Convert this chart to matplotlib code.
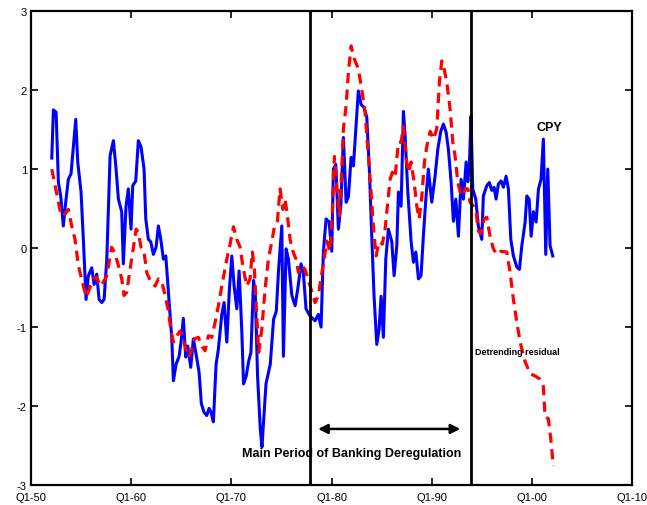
import matplotlib
matplotlib.use("Agg")
import matplotlib.pyplot as plt

plt.rcParams['font.family'] = ['Liberation Sans', 'DejaVu Sans']
plt.rcParams['axes.unicode_minus'] = False

# CPY (blue, solid)
cpy_year = [1952.07, 1952.23, 1952.50, 1952.73, 1952.96, 1953.22, 1953.46, 1953.72, 1953.99, 1954.46,
            1954.66, 1954.99, 1955.22, 1955.49, 1955.72, 1956.06, 1956.29, 1956.56, 1956.79, 1957.06,
            1957.29, 1957.56, 1957.89, 1958.22, 1958.46, 1958.72, 1959.05, 1959.21, 1959.48, 1959.71,
            1959.98, 1960.15, 1960.45, 1960.71, 1960.98, 1961.28, 1961.45, 1961.71, 1961.95, 1962.21,
            1962.48, 1962.71, 1962.95, 1963.21, 1963.45, 1964.05, 1964.21, 1964.48, 1964.78, 1964.97,
            1965.20, 1965.44, 1965.64, 1965.94, 1966.20, 1966.47, 1966.77, 1967.00, 1967.27, 1967.54,
            1967.77, 1967.97, 1968.20, 1968.47, 1968.70, 1969.04, 1969.27, 1969.54, 1969.80, 1970.04,
            1970.27, 1970.54, 1970.77, 1971.04, 1971.21, 1971.48, 1971.71, 1971.95, 1972.21, 1972.38,
            1972.61, 1972.88, 1973.05, 1973.45, 1973.88, 1974.21, 1974.48, 1974.71, 1975.03, 1975.19,
            1975.46, 1975.69, 1976.03, 1976.36, 1976.62, 1976.95, 1977.18, 1977.45, 1977.85, 1978.35,
            1978.68, 1978.95, 1979.18, 1979.45, 1979.75, 1980.02, 1980.18, 1980.42, 1980.68, 1980.92,
            1981.18, 1981.45, 1981.68, 1981.95, 1982.18, 1982.67, 1982.94, 1983.24, 1983.51, 1983.77,
            1984.01, 1984.24, 1984.51, 1984.74, 1984.94, 1985.17, 1985.41, 1985.67, 1986.01, 1986.24,
            1986.51, 1986.67, 1986.94, 1987.17, 1987.34, 1987.61, 1987.94, 1988.17, 1988.41, 1988.67,
            1988.93, 1989.16, 1989.43, 1989.66, 1990.00, 1990.33, 1990.60, 1990.90, 1991.16, 1991.43,
            1991.66, 1991.93, 1992.16, 1992.40, 1992.66, 1992.93, 1993.16, 1993.43, 1993.60, 1993.75,
            1993.92, 1994.09, 1994.39, 1994.65, 1994.99, 1995.15, 1995.49, 1995.75, 1995.99, 1996.22,
            1996.42, 1996.65, 1996.92, 1997.15, 1997.42, 1997.65, 1997.89, 1998.15, 1998.49, 1998.75,
            1998.99, 1999.32, 1999.49, 1999.72, 1999.92, 2000.15, 2000.42, 2000.65, 2000.91, 2001.14,
            2001.38, 2001.58, 2001.81, 2002.08]
cpy_val = [1.14, 1.75, 1.72, 0.83, 0.66, 0.28, 0.58, 0.87, 0.94, 1.63,
           1.09, 0.71, 0.11, -0.65, -0.35, -0.25, -0.46, -0.33, -0.65, -0.69,
           -0.65, -0.14, 1.17, 1.36, 1.04, 0.62, 0.46, -0.20, 0.53, 0.75,
           0.24, 0.79, 0.85, 1.36, 1.28, 1.00, 0.37, 0.11, 0.08, -0.08,
           0.01, 0.28, 0.11, -0.14, -0.10, -1.15, -1.68, -1.47, -1.37, -1.19,
           -0.89, -1.38, -1.24, -1.51, -1.15, -1.34, -1.57, -1.97, -2.08, -2.12,
           -2.03, -2.08, -2.20, -1.47, -1.28, -0.84, -0.69, -1.19, -0.52, -0.10,
           -0.48, -0.77, -0.29, -1.06, -1.72, -1.62, -1.44, -1.32, -0.41, -0.56,
           -1.62, -2.29, -2.52, -1.72, -1.47, -0.90, -0.80, -0.27, 0.28, -1.37,
           -0.01, -0.14, -0.60, -0.73, -0.52, -0.20, -0.31, -0.77, -0.86, -0.92,
           -0.84, -1.00, -0.05, 0.37, 0.33, -0.04, 1.00, 1.06, 0.24, 0.53,
           1.40, 0.58, 0.65, 1.15, 1.04, 1.99, 1.82, 1.78, 1.66, 1.00,
           0.15, -0.61, -1.22, -1.03, -0.61, -1.13, -0.14, 0.24, 0.08, -0.35,
           0.03, 0.71, 0.53, 1.73, 1.42, 0.71, 0.08, -0.18, -0.05, -0.39,
           -0.35, 0.15, 0.66, 1.00, 0.58, 0.91, 1.25, 1.48, 1.57, 1.47,
           1.25, 0.84, 0.34, 0.62, 0.15, 0.87, 0.62, 1.09, 0.84, 1.04,
           1.67, 0.75, 0.62, 0.28, 0.11, 0.66, 0.79, 0.83, 0.73, 0.77,
           0.62, 0.81, 0.85, 0.77, 0.91, 0.75, 0.11, -0.10, -0.24, -0.27,
           0.03, 0.33, 0.66, 0.62, 0.15, 0.46, 0.33, 0.75, 0.87, 1.38,
           -0.08, 1.00, 0.03, -0.10]

# Detrending residual (red, dashed)
res_year = [1952.07, 1952.40, 1953.00, 1953.39, 1953.72, 1954.06, 1954.39, 1954.72, 1955.12, 1955.49,
            1955.82, 1956.22, 1956.56, 1956.89, 1957.22, 1957.56, 1957.89, 1958.04, 1958.32, 1958.72,
            1959.05, 1959.28, 1959.55, 1959.88, 1960.15, 1960.48, 1960.71, 1960.98, 1961.28, 1961.55,
            1961.95, 1962.38, 1962.71, 1963.05, 1963.39, 1963.72, 1963.95, 1964.21, 1964.55, 1964.87,
            1965.14, 1965.44, 1965.77, 1966.04, 1966.30, 1966.70, 1967.04, 1967.37, 1967.70, 1968.04,
            1968.37, 1968.70, 1969.04, 1969.54, 1969.87, 1970.20, 1970.54, 1970.87, 1971.13, 1971.53,
            1971.86, 1972.09, 1972.29, 1972.53, 1972.73, 1973.03, 1973.36, 1973.69, 1974.03, 1974.29,
            1974.59, 1974.86, 1975.13, 1975.36, 1975.59, 1975.86, 1976.16, 1976.45, 1976.69, 1977.02,
            1977.35, 1977.85, 1978.35, 1978.68, 1979.03, 1979.26, 1979.52, 1979.85, 1980.08, 1980.28,
            1980.52, 1980.78, 1981.02, 1981.18, 1981.45, 1981.68, 1981.95, 1982.28, 1982.67, 1983.01,
            1983.34, 1983.67, 1983.94, 1984.17, 1984.44, 1984.74, 1985.07, 1985.34, 1985.57, 1985.84,
            1986.07, 1986.34, 1986.67, 1986.94, 1987.17, 1987.45, 1987.68, 1987.94, 1988.24, 1988.51,
            1988.74, 1989.01, 1989.27, 1989.51, 1989.84, 1990.17, 1990.50, 1990.76, 1991.00, 1991.23,
            1991.50, 1991.83, 1992.10, 1992.33, 1992.60, 1992.83, 1993.10, 1993.33, 1993.60, 1993.83,
            1994.16, 1994.42, 1994.65, 1994.89, 1995.22, 1995.49, 1995.82, 1996.15, 1996.49, 1996.89,
            1997.49, 1997.82, 1998.15, 1998.49, 1998.82, 1999.32, 1999.82, 2000.32, 2000.81, 2001.14,
            2001.31, 2001.64, 2001.88, 2002.14]
res_val = [1.00, 0.79, 0.41, 0.43, 0.49, 0.28, 0.11, -0.22, -0.43, -0.62,
           -0.52, -0.39, -0.37, -0.48, -0.43, -0.35, -0.10, 0.01, -0.05, -0.22,
           -0.39, -0.60, -0.56, -0.27, -0.05, 0.24, 0.20, 0.01, -0.05, -0.31,
           -0.43, -0.48, -0.39, -0.43, -0.60, -0.81, -1.03, -1.19, -1.11, -1.05,
           -1.11, -1.28, -1.38, -1.28, -1.15, -1.13, -1.24, -1.30, -1.11, -1.13,
           -0.94, -0.73, -0.48, -0.14, 0.05, 0.27, 0.11, 0.01, -0.22, -0.48,
           -0.39, -0.05, -0.27, -0.86, -1.32, -1.03, -0.52, -0.14, 0.08, 0.27,
           0.34, 0.75, 0.49, 0.62, 0.41, 0.11, -0.05, -0.14, -0.31, -0.22,
           -0.27, -0.48, -0.69, -0.60, -0.31, -0.14, 0.09, -0.04, 0.46, 1.16,
           0.79, 0.41, 1.00, 1.51, 1.80, 2.23, 2.56, 2.39, 2.27, 2.01,
           1.72, 1.16, 0.71, 0.28, -0.10, 0.08, 0.05, 0.24, 0.53, 0.87,
           0.96, 0.90, 1.34, 1.34, 1.54, 1.13, 0.96, 1.09, 0.83, 0.53,
           0.37, 0.66, 1.09, 1.29, 1.48, 1.38, 1.51, 2.10, 2.37, 2.27,
           2.10, 1.76, 1.34, 1.16, 0.83, 0.71, 0.66, 0.75, 0.75, 0.58,
           0.53, 0.46, 0.22, 0.18, 0.37, 0.39, 0.15, -0.01, -0.08, -0.04,
           -0.05, -0.31, -0.65, -0.94, -1.19, -1.44, -1.59, -1.62, -1.66, -1.75,
           -2.14, -2.16, -2.42, -2.76]

xtick_pos = [1950, 1960, 1970, 1980, 1990, 2000, 2010]
xtick_labels = ['Q1-50', 'Q1-60', 'Q1-70', 'Q1-80', 'Q1-90', 'Q1-00', 'Q1-10']
yticks = [-3, -2, -1, 0, 1, 2, 3]
dereg_start, dereg_end = 1977.8, 1993.95

fig = plt.figure(figsize=(6.47, 5.06), dpi=100)
ax = fig.add_axes([0.048, 0.0395, 0.929, 0.9365])

ax.plot(cpy_year, cpy_val, color='#0000ff', lw=2.2, zorder=2)
ax.plot(res_year, res_val, color='#ff0000', lw=2.3, dashes=(3.2, 2.0), zorder=3)

ax.axvline(dereg_start, color='black', lw=2.0, zorder=4)
ax.axvline(dereg_end, color='black', lw=2.0, zorder=4)

ax.annotate('', xy=(1978.65, -2.29), xytext=(1992.85, -2.29),
            arrowprops=dict(arrowstyle='<|-|>', color='black', lw=1.8,
                            mutation_scale=14, shrinkA=0, shrinkB=0))
ax.text(1982.0, -2.6, 'Main Period of Banking Deregulation', ha='center', va='center',
        fontsize=9, fontweight='bold')
ax.text(2001.7, 1.53, 'CPY', ha='center', va='center', fontsize=9, fontweight='bold')
ax.text(1994.35, -1.31, 'Detrending residual', ha='left', va='center',
        fontsize=6.5, fontweight='bold')

ax.set_xlim(1950, 2010)
ax.set_ylim(-3, 3)
ax.set_xticks(xtick_pos)
ax.set_xticklabels(xtick_labels)
ax.set_yticks(yticks)
ax.tick_params(direction='in', top=True, right=True, length=5, width=1.2,
               labelsize=8, pad=3)
ax.tick_params(axis='x', pad=5)
for s in ax.spines.values():
    s.set_linewidth(1.6)

fig.savefig('out.png', dpi=100)
